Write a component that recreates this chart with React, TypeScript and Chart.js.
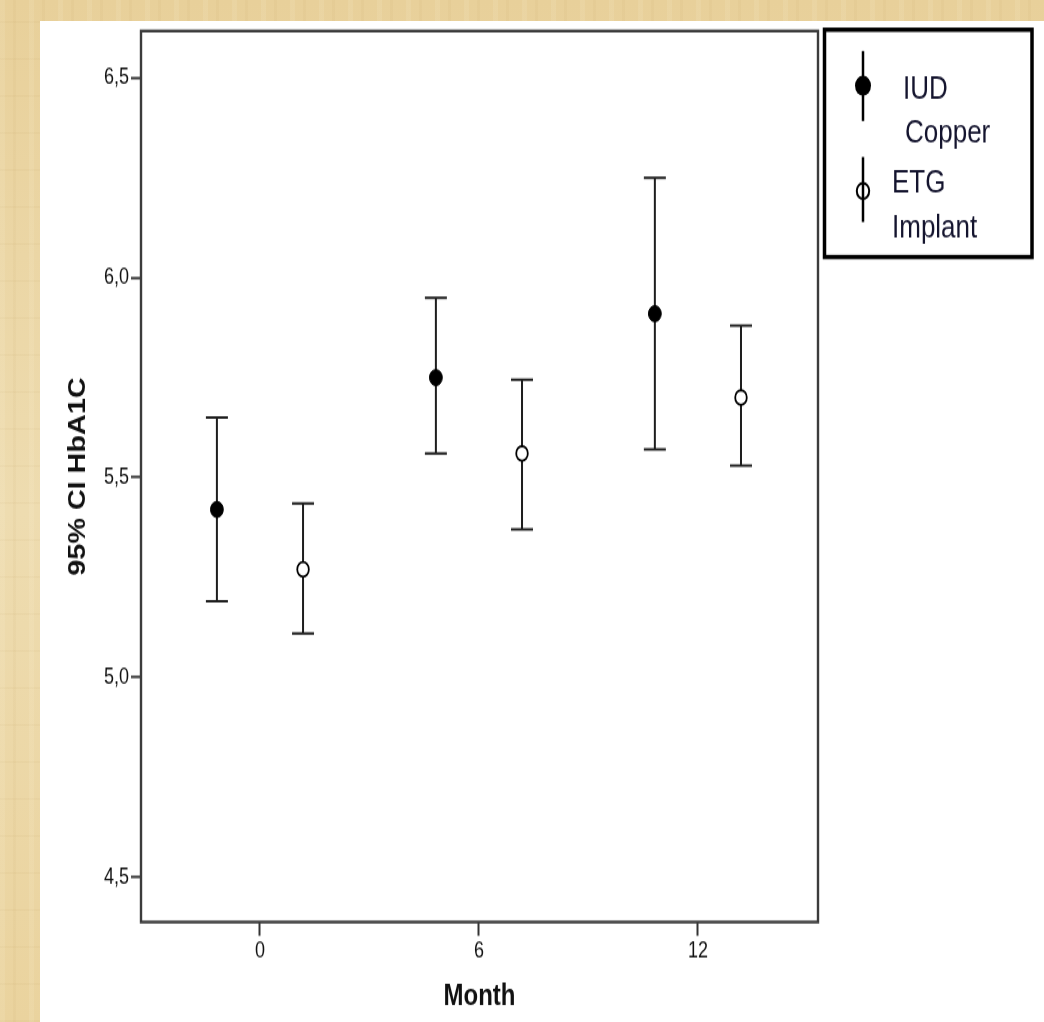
import React, { useEffect, useRef } from "react";
import { Chart, registerables } from "chart.js";

Chart.register(...registerables);

// ---- data ----
const months = [0, 6, 12];
const xTicks = [0, 6, 12];
const yTicks = [4.5, 5.0, 5.5, 6.0, 6.5];
const iudLabel = ["IUD", "Copper"];
const etgLabel = ["ETG", "Implant"];
const iudMean = [5.42, 5.75, 5.91];
const iudLower = [5.19, 5.56, 5.57];
const iudUpper = [5.65, 5.95, 6.25];
const etgMean = [5.27, 5.56, 5.7];
const etgLower = [5.11, 5.37, 5.53];
const etgUpper = [5.435, 5.745, 5.88];
const dodge = 1.18;

const FONT = '"Liberation Sans", Arial, Helvetica, sans-serif';
const STRETCH = 1.25;
const W = 1044;
const H = 818;

const errorBarPlugin = {
  id: "errorBars",
  beforeDatasetsDraw(chart: any) {
    const { ctx, chartArea } = chart;
    const yScale = chart.scales.y;
    // frame
    ctx.save();
    ctx.strokeStyle = "#3c3c3c";
    ctx.lineWidth = 2.4;
    ctx.strokeRect(
      chartArea.left,
      chartArea.top,
      chartArea.right - chartArea.left,
      chartArea.bottom - chartArea.top
    );
    ctx.restore();

    ctx.save();
    ctx.strokeStyle = "#1e1e1e";
    ctx.lineWidth = 2;
    chart.data.datasets.forEach((ds: any, di: number) => {
      const meta = chart.getDatasetMeta(di);
      meta.data.forEach((pt: any, j: number) => {
        const raw = ds.data[j];
        const x = pt.x;
        const yHi = yScale.getPixelForValue(raw.hi);
        const yLo = yScale.getPixelForValue(raw.lo);
        ctx.beginPath();
        ctx.moveTo(x, yHi);
        ctx.lineTo(x, yLo);
        ctx.moveTo(x - 11, yHi);
        ctx.lineTo(x + 11, yHi);
        ctx.moveTo(x - 11, yLo);
        ctx.lineTo(x + 11, yLo);
        ctx.stroke();
      });
    });
    ctx.restore();
  },
};

const legendPlugin = {
  id: "boxLegend",
  afterDraw(chart: any) {
    const { ctx } = chart;
    ctx.save();
    // box
    ctx.strokeStyle = "#000";
    ctx.lineWidth = 3.5;
    ctx.strokeRect(824.5, 23.8, 1032 - 824.5, 205.6 - 23.8);

    // IUD symbol
    ctx.lineWidth = 2.5;
    ctx.beginPath();
    ctx.moveTo(863, 40.8);
    ctx.lineTo(863, 96.8);
    ctx.stroke();
    ctx.fillStyle = "#000";
    ctx.beginPath();
    ctx.arc(863, 68.6, 8, 0, Math.PI * 2);
    ctx.fill();

    // ETG symbol
    ctx.beginPath();
    ctx.moveTo(863, 125.6);
    ctx.lineTo(863, 177.6);
    ctx.stroke();
    ctx.lineWidth = 2;
    ctx.beginPath();
    ctx.arc(863, 152.8, 6.2, 0, Math.PI * 2);
    ctx.stroke();

    // text
    ctx.fillStyle = "#14142e";
    ctx.font = `26px ${FONT}`;
    ctx.textBaseline = "alphabetic";
    ctx.textAlign = "left";
    ctx.fillText(iudLabel[0], 903, 79.2);
    ctx.fillText(iudLabel[1], 905, 114.4);
    ctx.fillText(etgLabel[0], 892, 153.6);
    ctx.fillText(etgLabel[1], 892, 189.6);
    ctx.restore();
  },
};

export default function App() {
  const ref = useRef<HTMLCanvasElement | null>(null);

  useEffect(() => {
    document.body.style.margin = "0";
    document.body.style.overflow = "hidden";
    const canvas = ref.current;
    if (!canvas) return;

    const iudData = months.map((m, i) => ({
      x: m - dodge,
      y: iudMean[i],
      lo: iudLower[i],
      hi: iudUpper[i],
    }));
    const etgData = months.map((m, i) => ({
      x: m + dodge,
      y: etgMean[i],
      lo: etgLower[i],
      hi: etgUpper[i],
    }));

    const chart = new Chart(canvas, {
      type: "scatter",
      data: {
        datasets: [
          {
            label: iudLabel.join(" "),
            data: iudData,
            pointRadius: 6.4,
            pointBackgroundColor: "#000",
            pointBorderColor: "#000",
            pointBorderWidth: 1,
            showLine: false,
          },
          {
            label: etgLabel.join(" "),
            data: etgData,
            pointRadius: 5.8,
            pointBackgroundColor: "#fff",
            pointBorderColor: "#000",
            pointBorderWidth: 1.8,
            showLine: false,
          },
        ],
      },
      options: {
        responsive: false,
        animation: false,
        devicePixelRatio: 1,
        layout: { padding: { left: 0, top: 24.8, right: 226, bottom: 0 } },
        plugins: {
          legend: { display: false },
          tooltip: { enabled: false },
        },
        events: [],
        scales: {
          x: {
            type: "linear",
            position: "bottom",
            min: -3.26,
            max: 15.29,
            afterBuildTicks: (s: any) => {
              s.ticks = xTicks.map((v) => ({ value: v }));
            },
            afterFit: (s: any) => {
              s.height = H - 737.6;
            },
            ticks: {
              callback: (v: any) => String(v),
              font: { family: FONT, size: 18 },
              color: "#111",
              padding: 2,
              maxRotation: 0,
            },
            grid: {
              drawOnChartArea: false,
              drawTicks: true,
              tickLength: 11,
              tickWidth: 2,
              tickColor: "#333",
            },
            border: { display: false },
            title: {
              display: true,
              text: "Month",
              font: { family: FONT, size: 24, weight: "bold" },
              color: "#111",
              padding: { top: 0, bottom: 6 },
            },
          },
          y: {
            type: "linear",
            position: "left",
            min: 4.3875,
            max: 6.6175,
            afterBuildTicks: (s: any) => {
              s.ticks = yTicks.map((v) => ({ value: v }));
            },
            afterFit: (s: any) => {
              s.width = 141;
            },
            ticks: {
              callback: (v: any) => Number(v).toFixed(1).replace(".", ","),
              font: { family: FONT, size: 18 },
              color: "#111",
              padding: 2,
            },
            grid: {
              drawOnChartArea: false,
              drawTicks: true,
              tickLength: 10,
              tickWidth: 2,
              tickColor: "#333",
            },
            border: { display: false },
            title: {
              display: true,
              text: "95% CI HbA1C",
              font: { family: FONT, size: 23, weight: "bold" },
              color: "#111",
              padding: { top: 65, bottom: 0 },
            },
          },
        },
      } as any,
      plugins: [errorBarPlugin, legendPlugin],
    });

    return () => chart.destroy();
  }, []);

  return (
    <div
      style={{
        position: "absolute",
        left: 0,
        top: 0,
        width: W,
        height: 1022,
        overflow: "hidden",
        backgroundColor: "#ead5a1",
        backgroundImage:
          "repeating-linear-gradient(90deg, rgba(255,250,230,0.10) 0px, rgba(255,250,230,0.10) 5px, rgba(0,0,0,0) 5px, rgba(0,0,0,0) 13px, rgba(170,130,60,0.05) 13px, rgba(170,130,60,0.05) 16px, rgba(0,0,0,0) 16px, rgba(0,0,0,0) 29px), repeating-linear-gradient(0deg, rgba(150,110,40,0.04) 0px, rgba(150,110,40,0.04) 2px, rgba(0,0,0,0) 2px, rgba(0,0,0,0) 37px), linear-gradient(180deg, #e8d09a 0%, #eedcb0 50%, #ead39e 100%)",
      }}
    >
      <div
        style={{
          position: "absolute",
          left: 40,
          top: 21,
          right: 0,
          bottom: 0,
          background: "#fff",
        }}
      />
      <div
        style={{
          position: "absolute",
          left: 0,
          top: 0,
          width: W,
          height: H,
          transform: `scale(1, ${STRETCH})`,
          transformOrigin: "0 0",
        }}
      >
        <canvas
          ref={ref}
          width={W}
          height={H}
          style={{ display: "block", width: W, height: H }}
        />
      </div>
    </div>
  );
}
